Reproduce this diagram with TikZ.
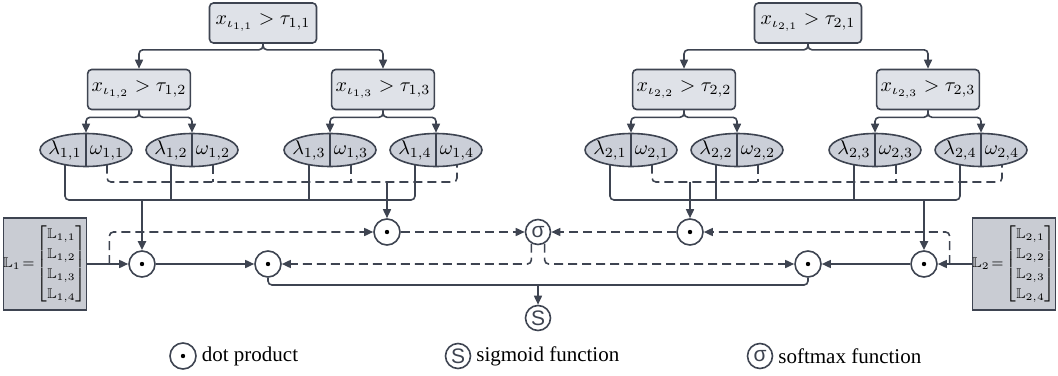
\documentclass[tikz,border=0pt]{standalone}
\usepackage{amsmath,amssymb}
\usepackage{fontspec}
\setmainfont{Liberation Serif}
\newfontfamily\symfont{Liberation Sans}
\usetikzlibrary{arrows.meta,shapes.geometric}
\definecolor{edge}{HTML}{3E4451}
\definecolor{boxfill}{HTML}{DFE2E8}
\definecolor{leaffill}{HTML}{CBCFD8}
\definecolor{lfill}{HTML}{C9CCD3}
\newcommand{\lvec}[1]{\mathbb{L}_{#1}\!=\!{\renewcommand{\arraystretch}{1.25}\setlength{\arraycolsep}{1pt}%
  \begin{bmatrix}\mathbb{L}_{#1,1}\\ \mathbb{L}_{#1,2}\\ \mathbb{L}_{#1,3}\\ \mathbb{L}_{#1,4}\end{bmatrix}}}
\tikzset{wire/.style={draw=edge, line width=0.8pt},
  arr/.style={wire, -{Triangle[length=4.5pt,width=4pt]}},
  bold arr/.style={arr, line width=1.3pt},
  dashline/.style={wire, dash pattern=on 4.5pt off 2.5pt},
  dasharr/.style={arr, dash pattern=on 4.5pt off 2.5pt},
  testbox/.style={draw=edge, fill=boxfill, rounded corners=2pt, line width=0.8pt,
    minimum height=20pt, inner sep=2pt},
  leaf/.style={ellipse, draw=edge, fill=leaffill, line width=0.8pt,
    minimum width=46pt, minimum height=16.5pt, inner sep=0pt},
  lbox/.style={draw=edge, fill=lfill, line width=0.8pt,
    minimum width=40pt, minimum height=46pt, inner sep=0pt, font=\scriptsize},
  dotprod/.style={circle, draw=edge, fill=white, line width=0.8pt,
    minimum size=13pt, inner sep=0pt,
    path picture={\fill[black] (path picture bounding box.center) circle (1.1pt);}},
  func/.style={circle, draw=edge, fill=white, line width=0.8pt,
    minimum size=12.5pt, inner sep=0pt, text=edge,
    font=\symfont\fontsize{10.5}{12}\selectfont},
  legend/.style={anchor=west, font=\fontsize{10.5}{12}\selectfont}
}

\begin{document}
\begin{tikzpicture}[x=0.5pt, y=-0.5pt]
  \useasboundingbox (0,0) rectangle (1058,375);
  % the two trees
  \foreach \t/\dx in {1/0, 2/545} {
    \begin{scope}[xshift={\dx*0.5pt}]
      \node[testbox, minimum width=53.5pt] (r\t) at (263,23) {$x_{\iota_{\t,1}} > \tau_{\t,1}$};
      \node[testbox, minimum width=46.5pt] (a\t) at (139,89.5) {$x_{\iota_{\t,2}} > \tau_{\t,2}$};
      \node[testbox, minimum width=46.5pt] (b\t) at (383,89.5) {$x_{\iota_{\t,3}} > \tau_{\t,3}$};
      \foreach \i/\x in {1/86, 2/192, 3/330, 4/436} {
        \node[leaf] (l\t\i) at (\x,150)
          {\makebox[0pt]{\makebox[21pt]{$\lambda_{\t,\i}$}\makebox[21pt]{$\omega_{\t,\i}$}}};
        \draw[wire] (l\t\i.north) -- (l\t\i.south);
        \coordinate (p\t\i) at ([xshift=-10.5pt,yshift=-7.3pt]l\t\i.center);
        \coordinate (q\t\i) at ([xshift=10.5pt,yshift=-7.3pt]l\t\i.center);
      }
      \coordinate (s\t) at (0,200);
      \coordinate (w\t) at (0,182);
    \end{scope}
    \foreach \c in {a,b}
      \draw[arr, rounded corners=2pt] (r\t.south) -- ++(0,6) -| (\c\t.north);
    \foreach \c/\u/\v in {a/1/2, b/3/4} {
      \draw[arr, rounded corners=2pt] (\c\t.south) -- ++(0,7) -| (l\t\u.north);
      \draw[arr, rounded corners=2pt] (\c\t.south) -- ++(0,7) -| (l\t\v.north);
    }
    \draw[wire, rounded corners=2pt] (p\t1) -- (p\t1 |- s\t) -| (p\t4);
    \draw[dashline, rounded corners=2pt] (q\t1) -- (q\t1 |- w\t) -| (q\t4);
    \foreach \i in {2,3} {
      \draw[wire] (p\t\i) -- (p\t\i |- s\t);
      \draw[dashline] (q\t\i) -- (q\t\i |- w\t);
    }
  }
  % products and functions
  \node[lbox] (L1) at (45,264) {$\lvec{1}$};
  \node[lbox] (L2) at (1014,264) {$\lvec{2}$};
  \node[dotprod] (d11) at (142,264) {};
  \node[dotprod] (d12) at (387,232) {};
  \node[dotprod] (d13) at (268,264) {};
  \node[dotprod] (d21) at (924,264) {};
  \node[dotprod] (d22) at (690,232) {};
  \node[dotprod] (d23) at (808,264) {};
  \node[func] (sm) at (538,232) {σ};
  \node[func] (sg) at (538,318) {S};
  \coordinate (m) at (538,285);

  \draw[bold arr] (s1 -| d11) -- (d11);
  \draw[bold arr] (s2 -| d21) -- (d21);
  \draw[arr] (w1 -| d12) -- (d12);
  \draw[arr] (w2 -| d22) -- (d22);
  \draw[arr] (L1) -- (d11);
  \draw[arr] (L2) -- (d21);
  \draw[dasharr, rounded corners=2pt] ([xshift=11pt]L1.east) |- (d12);
  \draw[dasharr, rounded corners=2pt] ([xshift=-11pt]L2.west) |- (d22);
  \draw[arr] (d11) -- (d13);
  \draw[arr] (d21) -- (d23);
  \draw[dasharr] (d12) -- (sm);
  \draw[dasharr] (d22) -- (sm);
  \draw[dasharr, rounded corners=2pt] (sm.240) |- (d13);
  \draw[dasharr, rounded corners=2pt] (sm.300) |- (d23);
  \draw[wire, rounded corners=2pt] (d13) |- (m) -| (d23);
  \draw[arr] (m) -- (sg);

  % legend
  \node[dotprod] (k1) at (183,356) {};
  \node[legend] (t1) at ([xshift=-1pt]k1.east) {dot product};
  \node[func] (k2) at (458,356) {S};
  \node[legend] (t2) at ([xshift=-1pt]k2.east) {sigmoid function};
  \node[func] (k3) at (760,356) {σ};
  \node[legend] (t3) at ([xshift=-1pt]k3.east) {softmax function};
\end{tikzpicture}
\end{document}
